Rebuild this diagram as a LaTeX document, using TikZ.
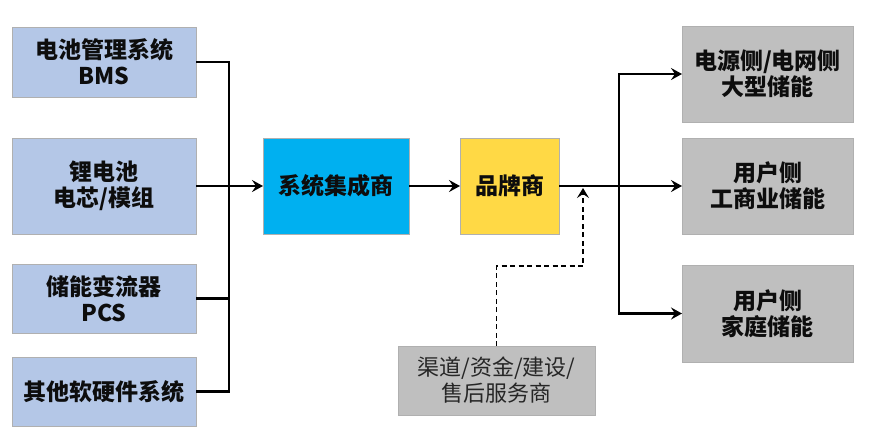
\documentclass[tikz,border=0pt]{standalone}
\usepackage{fontspec}
\setmainfont{Noto Sans CJK SC}
\usetikzlibrary{arrows.meta}
\definecolor{leftfill}{HTML}{B4C7E7}
\definecolor{sysfill}{HTML}{00B0F0}
\definecolor{brandfill}{HTML}{FFD945}
\definecolor{grayfill}{HTML}{BFBFBF}
\definecolor{boxline}{HTML}{B0B0B0}
\definecolor{txt}{HTML}{0D0D0D}
\definecolor{svctxt}{HTML}{262626}
\begin{document}
\begin{tikzpicture}[x=1pt,y=-1pt,
  box/.style={rectangle, draw=boxline, line width=0.8pt, inner sep=0pt, outer sep=0pt,
    align=center, text=txt, font=\fontsize{23}{26}\selectfont\bfseries},
  conn/.style={line width=2.4pt, black},
  arr/.style={conn, -{Stealth[length=11pt,width=12pt,inset=4pt]}},
  dasharr/.style={line width=1.5pt, black, dash pattern=on 5pt off 3.5pt,
    -{Stealth[length=10pt,width=12pt,inset=4pt]}}
]
\useasboundingbox (0,0) rectangle (869,437);
\fill[white] (0,0) rectangle (869,437);

% left column
\node[box, fill=leftfill, minimum width=184pt, minimum height=70pt] (b1) at (104,62) {电池管理系统\\BMS};
\node[box, fill=leftfill, minimum width=184pt, minimum height=96pt] (b2) at (104,186) {锂电池\\电芯/模组};
\node[box, fill=leftfill, minimum width=184pt, minimum height=69pt] (b3) at (104,298.5) {储能变流器\\PCS};
\node[box, fill=leftfill, minimum width=184pt, minimum height=69pt] (b4) at (104,391.5) {其他软硬件系统};

% middle
\node[box, fill=sysfill, minimum width=146pt, minimum height=96pt] (sys) at (336,186) {系统集成商};
\node[box, fill=brandfill, minimum width=99pt, minimum height=96pt] (brand) at (509.5,186) {品牌商};
\node[box, fill=grayfill, minimum width=197pt, minimum height=69pt, text=svctxt,
  font=\fontsize{22}{26}\selectfont] (svc) at (496.5,380.5) {渠道/资金/建设/\\售后服务商};

% right column
\node[box, fill=grayfill, minimum width=171pt, minimum height=96pt] (ra) at (767.5,74) {电源侧/电网侧\\大型储能};
\node[box, fill=grayfill, minimum width=171pt, minimum height=96pt] (rb) at (767.5,186) {用户侧\\工商业储能};
\node[box, fill=grayfill, minimum width=171pt, minimum height=97pt] (rc) at (767.5,313.5) {用户侧\\家庭储能};

% junctions
\coordinate (jl) at (229,186);
\coordinate (jr) at (619,186);
\coordinate (dm) at (583,188);

% left bus
\draw[conn] (b1.east) -| (jl) |- (b4.east);
\draw[conn] (b3.east) -| (jl);
\draw[arr] (b2.east) -- (sys.west);

% middle
\draw[arr] (sys.east) -- (brand.west);
\draw[arr] (brand.east) -- (rb.west);
\draw[arr] (jr) |- (ra.west);
\draw[arr] (jr) |- (rc.west);

% dashed support
\draw[dasharr] (svc.north) -- ++(0,-80) -| (dm);
\end{tikzpicture}
\end{document}
